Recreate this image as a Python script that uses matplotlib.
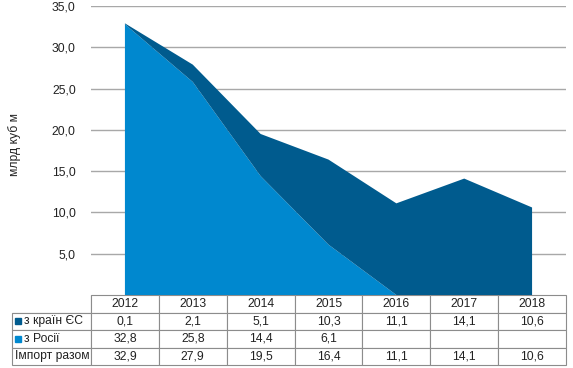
import matplotlib.pyplot as plt
import matplotlib.patches as mpatches
import numpy as np

plt.rcParams['font.family'] = ['Liberation Sans', 'DejaVu Sans']

# data
years = ['2012', '2013', '2014', '2015', '2016', '2017', '2018']
from_eu = [0.1, 2.1, 5.1, 10.3, 11.1, 14.1, 10.6]
from_russia = [32.8, 25.8, 14.4, 6.1, 0.0, 0.0, 0.0]
total = [32.9, 27.9, 19.5, 16.4, 11.1, 14.1, 10.6]
russia_cells = ['32,8', '25,8', '14,4', '6,1', '', '', '']
row_names = ['з країн ЄС', 'з Росії', 'Імпорт разом']

dark = '#005b8e'
light = '#0088cf'
txt = '#222222'
fs = 8.7

W, H = 573, 368
fig = plt.figure(figsize=(W / 100, H / 100), dpi=100)
ax = fig.add_axes([91 / W, 1 - 295 / H, 475 / W, 289 / H])

x = np.arange(len(years))
ax.stackplot(x, from_russia, from_eu, colors=[light, dark], linewidth=0, zorder=3)

ax.set_xlim(-0.5, len(years) - 0.5)
ax.set_ylim(0, 35)
ax.set_yticks(np.arange(5, 36, 5))
ax.set_yticklabels([f'{v:.1f}'.replace('.', ',') for v in np.arange(5, 36, 5)])
ax.tick_params(axis='y', length=0, pad=11, labelsize=fs, labelcolor=txt)
ax.set_xticks([])
ax.grid(axis='y', color='#a8a8a8', linewidth=1, zorder=0)
for s in ax.spines.values():
    s.set_visible(False)
ax.set_ylabel('млрд куб м', fontsize=fs, color=txt)
ax.yaxis.set_label_coords(-70 / 475, 0.52)

def fmt(v):
    return f'{v:.1f}'.replace('.', ',')

cells = [
    [''] + years,
    [''] + [fmt(v) for v in from_eu],
    [''] + russia_cells,
    [''] + [fmt(v) for v in total],
]
lab_w = 79 / 475
tab_h = 70 / 289
tb = ax.table(cellText=cells, cellLoc='center',
              colWidths=[lab_w] + [1 / 7] * 7,
              bbox=[-lab_w, -tab_h, 1 + lab_w, tab_h])
tb.auto_set_font_size(False)
tb.set_fontsize(fs)
for (r, c), cell in tb.get_celld().items():
    cell.set_edgecolor('#8c8c8c')
    cell.set_linewidth(0.8)
    cell.get_text().set_color(txt)
    if r == 0 and c == 0:
        cell.visible_edges = 'BR'

# row names with coloured markers
marker_cols = [dark, light, None]
for i, name in enumerate(row_names):
    yy = -(i + 1.5) * tab_h / 4
    col = marker_cols[i]
    x0 = -lab_w + (12 if col else 3) / 475
    ax.text(x0, yy, name, fontsize=fs, color=txt, ha='left', va='center',
            transform=ax.transAxes)
    if col:
        sq = mpatches.Rectangle((-lab_w + 3 / 475, yy - 3 / 289), 6 / 475, 6 / 289,
                                transform=ax.transAxes, color=col, clip_on=False)
        ax.add_patch(sq)

fig.savefig('out.png', dpi=100)
